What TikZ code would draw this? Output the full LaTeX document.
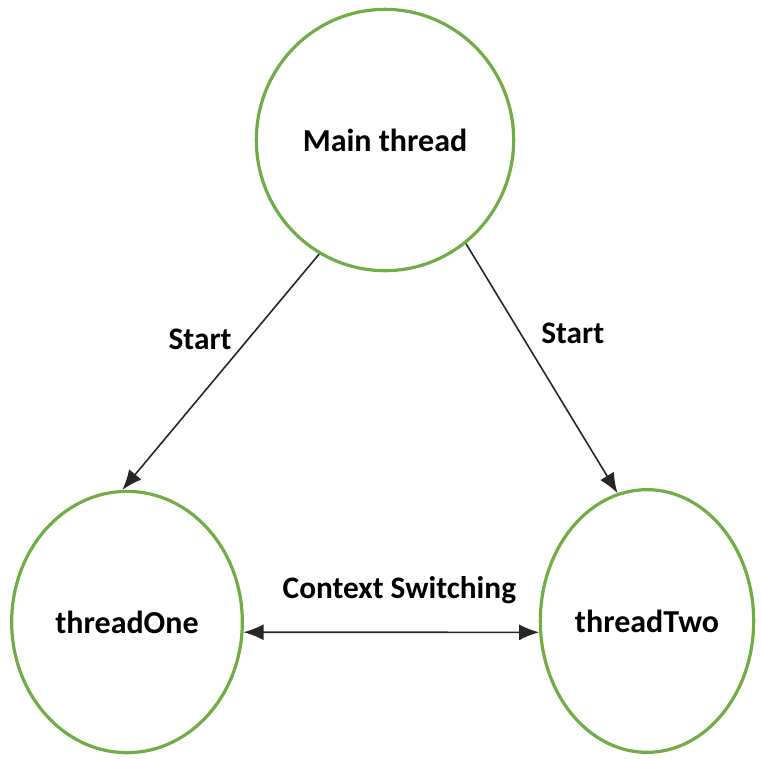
\documentclass[tikz,border=0pt]{standalone}
\usepackage{fontspec}
\setmainfont{Carlito}
\usetikzlibrary{shapes.geometric,arrows.meta}

\definecolor{threadgreen}{HTML}{70AD47}

\tikzset{
    thread/.style={ellipse, draw=threadgreen, line width=2.4pt, inner sep=0pt,
        font=\fontsize{24}{28}\selectfont\bfseries},
    lbl/.style={font=\fontsize{23.5}{27}\selectfont\bfseries, inner sep=0pt},
    flow/.style={draw=black!85, line width=1.2pt, -{Latex[length=15pt,width=12pt]}}
}

\begin{document}
\begin{tikzpicture}[x=0.75pt, y=-0.75pt]
        \useasboundingbox (0,0) rectangle (761,758);

        \node[thread, minimum width=193pt, minimum height=196pt] at (385,140)(main){Main thread};
        \node[thread, minimum width=173pt, minimum height=196pt] at (127,622)(one){threadOne};
        \node[thread, minimum width=160pt, minimum height=197pt] at (647,621)(two){threadTwo};

        \path
        (main.240)edge[flow] node[lbl, pos=0.36, left=12pt]{Start}(one.92)
        (main.308)edge[flow] node[lbl, pos=0.36, right=15pt]{Start}(two.103)
        ;
        \draw[flow, {Latex[length=15pt,width=12pt]}-{Latex[length=15pt,width=12pt]}]
        (one.-5) -- node[lbl, above=21pt, xshift=6pt]{Context Switching} (two.186);
    \end{tikzpicture}
\end{document}
